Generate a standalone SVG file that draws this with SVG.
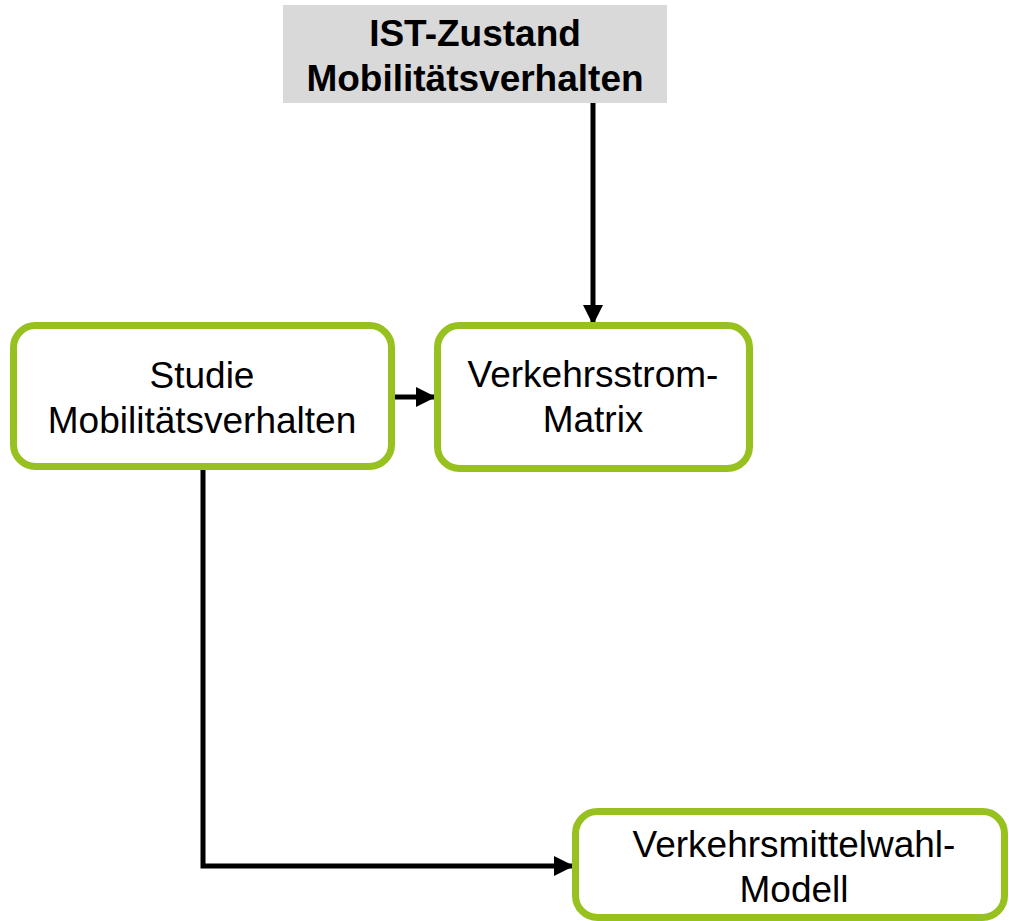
<svg xmlns="http://www.w3.org/2000/svg" width="1009" height="921" viewBox="0 0 1009 921">
<style>
.box{fill:#ffffff;stroke:#97c11f;stroke-width:7}
.t{font-family:"Liberation Sans",Arial,sans-serif;font-size:37px;fill:#000;text-anchor:middle}
.b{font-weight:bold}
.c{fill:none;stroke:#000;stroke-width:5}
</style>
<defs>
<marker id="ah" markerWidth="4" markerHeight="4" refX="4" refY="2" orient="auto" markerUnits="strokeWidth">
<path d="M0,0 L4,2 L0,4 Z" fill="#000"/>
</marker>
</defs>
<rect width="1009" height="921" fill="#ffffff"/>
<g id="connectors">
<path class="c" d="M593,103 V325" marker-end="url(#ah)"/>
<path class="c" d="M392,397 H436" marker-end="url(#ah)"/>
<path class="c" d="M203,470 V866 H574" marker-end="url(#ah)"/>
</g>
<g id="ist">
<rect x="283" y="5" width="384" height="98" fill="#d9d9d9"/>
<text class="t b" x="475" y="46">IST-Zustand</text>
<text class="t b" x="475" y="91">Mobilitätsverhalten</text>
</g>
<g id="studie">
<rect class="box" x="13.5" y="325.5" width="378" height="141" rx="22"/>
<text class="t" x="202" y="388">Studie</text>
<text class="t" x="202" y="433">Mobilitätsverhalten</text>
</g>
<g id="matrix">
<rect class="box" x="437.5" y="325.5" width="312" height="143" rx="22"/>
<text class="t" x="593" y="387">Verkehrsstrom-</text>
<text class="t" x="593" y="432">Matrix</text>
</g>
<g id="modell">
<rect class="box" x="575.5" y="811.5" width="429" height="106" rx="22"/>
<text class="t" x="794" y="857">Verkehrsmittelwahl-</text>
<text class="t" x="794" y="902">Modell</text>
</g>
</svg>
